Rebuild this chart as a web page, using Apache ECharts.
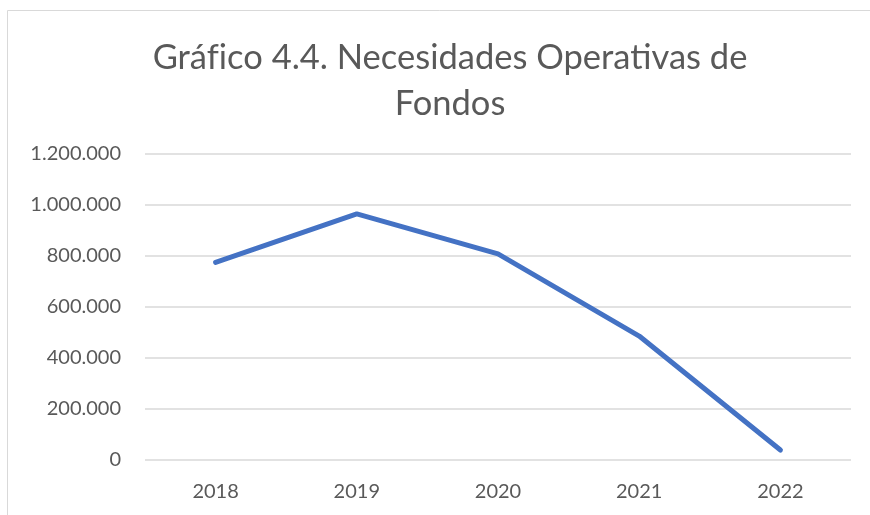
<!DOCTYPE html>
<html>

<head>
  <meta charset="utf-8">
  <title>Necesidades Operativas de Fondos</title>
  <script src="https://cdn.jsdelivr.net/npm/echarts@6/dist/echarts.min.js"></script>
  <style>
    html, body {
      margin: 0;
      padding: 0;
      background: #fff;
    }

    #main {
      width: 870px;
      height: 515px;
    }
  </style>
</head>

<body>
  <div id="main"></div>
  <script>
    // datos
    var years = ['2018', '2019', '2020', '2021', '2022'];
    var nof = [775000, 965000, 808000, 486000, 39000];
    var yTicks = [0, 200000, 400000, 600000, 800000, 1000000, 1200000];

    var chart = echarts.init(document.getElementById('main'));

    function fmtMiles(v) {
      return String(v).replace(/\B(?=(\d{3})+(?!\d))/g, '.');
    }

    var option = {
      animation: false,
      title: {
        // \u200C evita la ligadura "fi"
        text: 'Gráf\u200Cico 4.4. Necesidades Operativas de\nFondos',
        left: 445,
        top: 30,
        textAlign: 'center',
        textStyle: {
          fontFamily: 'Lato',
          fontWeight: 'normal',
          fontSize: 34.5,
          lineHeight: 46,
          color: '#595959'
        }
      },
      graphic: [{
        type: 'rect',
        shape: { x: 7.5, y: 10.5, width: 900, height: 600 },
        style: { fill: 'none', stroke: '#d9d9d9', lineWidth: 1 },
        silent: true
      }],
      grid: {
        left: 145,
        right: 19,
        top: 154,
        bottom: 55
      },
      xAxis: {
        type: 'category',
        data: years,
        boundaryGap: true,
        axisLine: { show: false },
        axisTick: { show: false },
        axisLabel: {
          margin: 22,
          fontFamily: 'Lato',
          fontSize: 20,
          color: '#595959'
        }
      },
      yAxis: {
        type: 'value',
        min: yTicks[0],
        max: yTicks[yTicks.length - 1],
        interval: 200000,
        axisLine: { show: false },
        axisTick: { show: false },
        axisLabel: {
          margin: 24,
          fontFamily: 'Lato',
          fontSize: 20,
          color: '#595959',
          formatter: fmtMiles
        },
        splitLine: {
          lineStyle: { color: '#d9d9d9', width: 1.5 }
        }
      },
      series: [{
        type: 'line',
        data: nof,
        symbol: 'none',
        lineStyle: {
          color: '#4472C4',
          width: 5,
          cap: 'round',
          join: 'round'
        }
      }]
    };

    chart.setOption(option);
  </script>
</body>

</html>
